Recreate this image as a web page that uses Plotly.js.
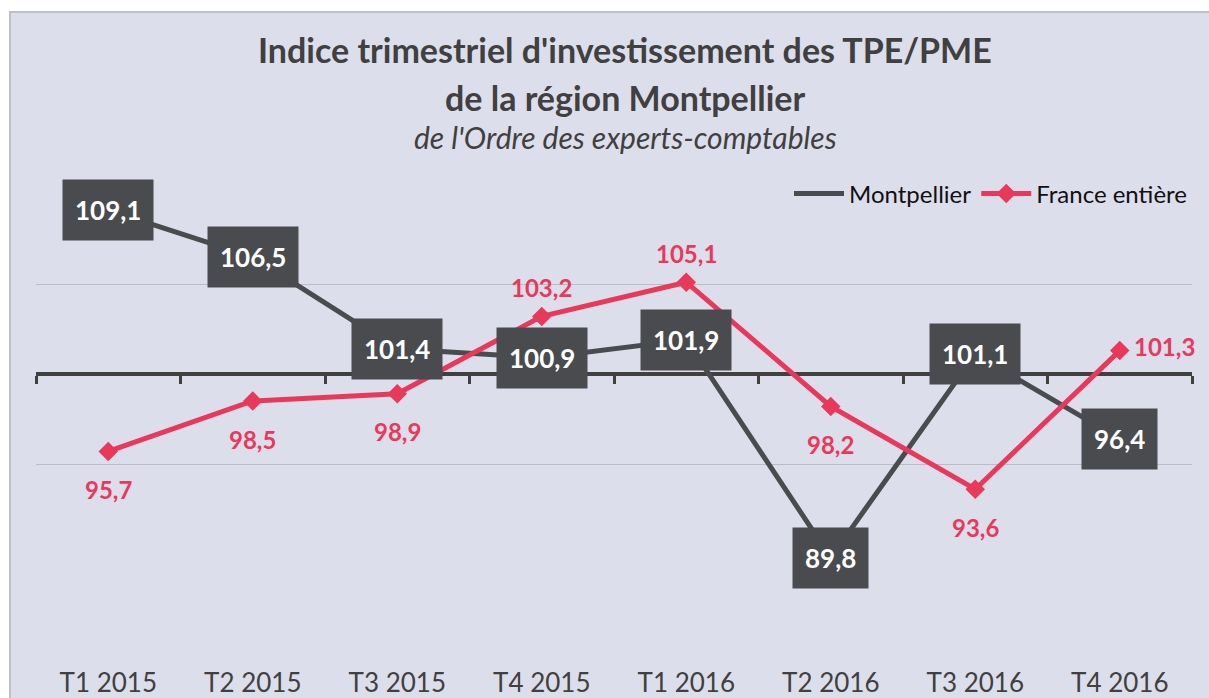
<!DOCTYPE html>
<html>
<head>
<meta charset="utf-8">
<script src="https://cdn.plot.ly/plotly-3.0.1.min.js"></script>
<style>html,body{margin:0;padding:0;background:#fff;}#chart{width:1209px;height:698px;}</style>
</head>
<body>
<div id="chart"></div>
<script>
const categories = ["T1 2015","T2 2015","T3 2015","T4 2015","T1 2016","T2 2016","T3 2016","T4 2016"];
const montpellier = [109.1, 106.5, 101.4, 100.9, 101.9, 89.8, 101.1, 96.4];
const france = [95.7, 98.5, 98.9, 103.2, 105.1, 98.2, 93.6, 101.3];
const franceLabelPos = ["below","below","below","above","above","below","below","right"];
const gridValues = [85, 95, 105];
const seriesNames = ["Montpellier", "France entière"];

const W = 1209, H = 698;
const M = {l: 36, r: 17, t: 194, b: 54};
const yMin = 85, yMax = 110, crossAt = 100;
const pw = W - M.l - M.r, ph = H - M.t - M.b;
const px2x = p => (p - M.l) / pw;
const px2y = p => (H - M.b - p) / ph;
const fmt = v => v.toFixed(1).replace('.', ',');

const xs = categories.map((c, i) => i);
const bounds = [];
for (let i = 0; i <= categories.length; i++) bounds.push(i - 0.5);

const GREY = '#4a4b4e', RED = '#e8395a', TXT = '#404040';

const traces = [
  {x: xs, y: montpellier, name: seriesNames[0], type: 'scatter', mode: 'lines',
   line: {color: GREY, width: 5}, hoverinfo: 'skip'},
  {x: xs, y: france, name: seriesNames[1], type: 'scatter', mode: 'lines+markers',
   line: {color: RED, width: 5}, marker: {symbol: 'diamond', size: 15, color: RED},
   hoverinfo: 'skip'},
  {x: [bounds[0], bounds[bounds.length-1]], y: [null, null], xaxis: 'x2', showlegend: false,
   type: 'scatter', mode: 'lines', hoverinfo: 'skip'}
];

const annotations = [];
montpellier.forEach((v, i) => {
  annotations.push({x: i, y: v, xref: 'x', yref: 'y', text: '<b>' + fmt(v) + '</b>',
    showarrow: false, bgcolor: GREY, borderpad: 12, height: 36,
    font: {family: 'Lato', size: 26, color: '#ffffff'}});
});
france.forEach((v, i) => {
  const pos = franceLabelPos[i];
  const a = {x: i, y: v, xref: 'x', yref: 'y', text: '<b>' + fmt(v) + '</b>', showarrow: false,
    font: {family: 'Lato', size: 24, color: RED}};
  if (pos === 'below') { a.yshift = -38; }
  else if (pos === 'above') { a.yshift = 29; }
  else { a.xanchor = 'left'; a.xshift = 12; a.yshift = 4; }
  annotations.push(a);
});
annotations.push(
  {xref: 'paper', yref: 'paper', x: px2x(625), y: px2y(50), yanchor: 'middle', xanchor: 'center',
   text: "<b>Indice trimestriel d'investissement des TPE/PME</b>",
   showarrow: false, font: {family: 'Lato', size: 34, color: TXT}},
  {xref: 'paper', yref: 'paper', x: px2x(625), y: px2y(97), yanchor: 'middle', xanchor: 'center',
   text: "<b>de la région Montpellier</b>",
   showarrow: false, font: {family: 'Lato', size: 34, color: TXT}},
  {xref: 'paper', yref: 'paper', x: px2x(625), y: px2y(137), yanchor: 'middle', xanchor: 'center',
   text: "<i>de l'Ordre des experts-comptables</i>",
   showarrow: false, font: {family: 'Lato', size: 30, color: TXT}}
);

const layout = {
  width: W, height: H,
  margin: M,
  paper_bgcolor: '#ffffff',
  plot_bgcolor: 'rgba(0,0,0,0)',
  font: {family: 'Lato', color: TXT},
  showlegend: true,
  legend: {orientation: 'h', x: 1, xanchor: 'right', y: px2y(194), yanchor: 'middle',
    font: {family: 'Lato', size: 24, color: '#111111'}, bgcolor: 'rgba(0,0,0,0)', itemwidth: 50},
  xaxis: {range: [bounds[0], bounds[bounds.length-1]], tickmode: 'array', tickvals: xs, ticktext: categories,
    showgrid: false, zeroline: false, showline: false, ticks: '', ticklabelstandoff: 21,
    tickfont: {family: 'Lato', size: 26, color: TXT}, fixedrange: true},
  xaxis2: {overlaying: 'x', anchor: 'free', position: (crossAt - yMin) / (yMax - yMin),
    range: [bounds[0], bounds[bounds.length-1]], tickmode: 'array', tickvals: bounds,
    showticklabels: false, showgrid: false, zeroline: false, showline: true, linecolor: TXT, linewidth: 4,
    ticks: 'outside', ticklen: 8, tickwidth: 3, tickcolor: TXT, layer: 'below traces', side: 'bottom'},
  yaxis: {range: [yMin, yMax], tickmode: 'array', tickvals: gridValues, showticklabels: false,
    showgrid: true, gridcolor: '#bcbcc6', gridwidth: 1, zeroline: false, showline: false, ticks: '', fixedrange: true},
  shapes: [
    {type: 'rect', xref: 'paper', yref: 'paper', x0: px2x(10), x1: px2x(1230), y0: px2y(720), y1: px2y(12),
     fillcolor: '#dddeeb', line: {color: '#c0c0c0', width: 2}, layer: 'below'}
  ],
  annotations: annotations
};

Plotly.newPlot('chart', traces, layout, {displayModeBar: false, staticPlot: true});
</script>
</body>
</html>
